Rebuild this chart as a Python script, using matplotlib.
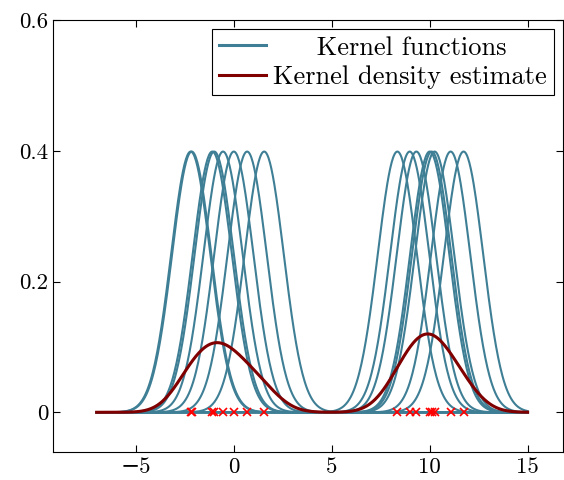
import numpy as np
import matplotlib
matplotlib.use("Agg")
import matplotlib.pyplot as plt

# sample points
points_left = [-2.2, -2.15, -1.1, -1.0, -0.55, 0.0, 0.68, 1.55]
points_right = [8.35, 8.98, 9.32, 10.0, 10.1, 10.25, 11.07, 11.73]
# sample count behind the density curve
n_samples = 18
x_ticks = [-5, 0, 5, 10, 15]
x_tick_labels = ["\u22125", "0", "5", "10", "15"]
y_ticks = [0, 0.2, 0.4, 0.6]
y_tick_labels = ["0", "0.2", "0.4", "0.6"]

kernel_color = "#3f7f95"
kde_color = "#800000"

plt.rcParams["font.family"] = ["cmr10", "DejaVu Serif"]
plt.rcParams["mathtext.fontset"] = "cm"


def gauss(x, mu):
    return np.exp(-0.5 * (x - mu) ** 2) / np.sqrt(2 * np.pi)


def main():
    pts = np.array(points_left + points_right)
    xs = np.linspace(-7, 15, 600)

    fig = plt.figure(figsize=(5.64, 4.8), dpi=100)
    ax = fig.add_axes([0.094, 0.058, 0.904, 0.9])

    for i, p in enumerate(pts):
        ax.plot(xs, gauss(xs, p), color=kernel_color, lw=1.5,
                label="     Kernel functions" if i == 0 else None)
    kde = sum(gauss(xs, p) for p in pts) / n_samples
    ax.plot(xs, kde, color=kde_color, lw=2.2, label="Kernel density estimate")
    ax.plot(pts, np.zeros(len(pts)), "x", color="red", ms=6, mew=1.2)

    ax.set_xlim(-9.23, 16.8)
    ax.set_ylim(-0.061, 0.6)
    ax.set_xticks(x_ticks)
    ax.set_xticklabels(x_tick_labels)
    ax.set_yticks(y_ticks)
    ax.set_yticklabels(y_tick_labels)
    ax.tick_params(direction="in", top=True, right=True, labelsize=16.5, length=5)

    leg = ax.legend(loc="upper right", fontsize=19, fancybox=False,
                    edgecolor="black", framealpha=1, handlelength=1.8,
                    handletextpad=0.27, borderpad=0.25, labelspacing=0.2,
                    borderaxespad=0.35)
    leg.get_frame().set_linewidth(0.8)
    for line in leg.get_lines():
        line.set_linewidth(2.2)

    fig.savefig("out.png", dpi=100)


if __name__ == "__main__":
    main()
